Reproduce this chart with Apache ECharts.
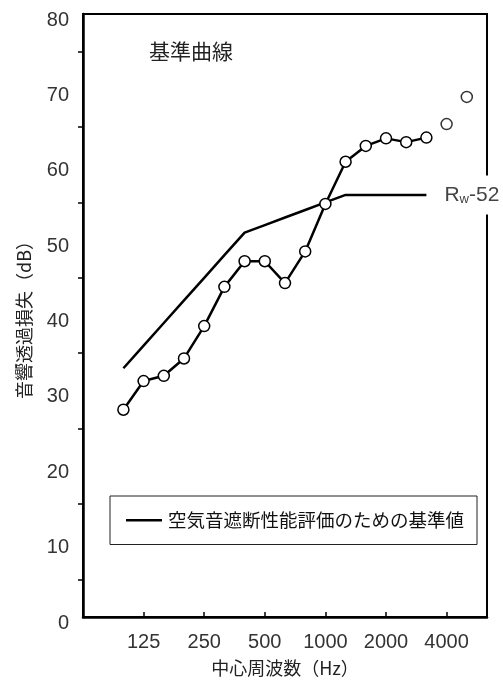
<!DOCTYPE html>
<html><head><meta charset="utf-8">
<script src="https://cdn.jsdelivr.net/npm/echarts@6/dist/echarts.min.js"></script>
<style>html,body{margin:0;padding:0;background:#fff}#c{width:503px;height:682px}</style>
</head><body><div id="c"></div>
<script>
// 1/3-octave band centre frequencies (Hz)
const bands = ['100','125','160','200','250','315','400','500','630','800','1000','1250','1600','2000','2500','3150','4000','5000'];
// Measured sound transmission loss (dB)
const measured = [27.5, 31.3, 32.0, 34.3, 38.6, 43.8, 47.2, 47.2, 44.3, 48.5, 54.8, 60.4, 62.5, 63.5, 63.0, 63.6, 65.4, 69.0];
// Number of measured points joined by a line (rest are markers only)
const measuredLineCount = 16;
// Reference curve (Rw-52), 100–3150 Hz
const reference = [33, 36, 39, 42, 45, 48, 51, 52, 53, 54, 55, 56, 56, 56, 56, 56];
// x tick labels
const xTickLabels = ['125', '250', '500', '1000', '2000', '4000'];
const yTicks = [0, 10, 20, 30, 40, 50, 60, 70, 80];

const FONT = '"Noto Sans CJK JP", "Noto Sans", sans-serif';
const NUMFONT = '"Liberation Sans", "DejaVu Sans", sans-serif';
const tickIdx = xTickLabels.map(l => bands.indexOf(l));
const legendName = '空気音遮断性能評価のための基準値';

const chart = echarts.init(document.getElementById('c'), null, {renderer: 'canvas'});
chart.setOption({
  animation: false,
  backgroundColor: '#fff',
  textStyle: {fontFamily: FONT},
  title: {
    text: '基準曲線', left: 144, top: 36,
    textStyle: {fontFamily: FONT, fontSize: 21, fontWeight: 'normal', color: '#222'}
  },
  grid: {left: 83, right: 16, top: 14, bottom: 64, show: true, borderColor: '#000', borderWidth: 2, backgroundColor: 'transparent'},
  legend: {
    left: 110, top: 496,
    data: [{name: legendName, icon: 'rect'}],
    orient: 'horizontal',
    borderColor: '#222', borderWidth: 1, borderRadius: 0,
    padding: [15, 13, 15, 16],
    itemWidth: 36, itemHeight: 2.5, itemGap: 7,
    textStyle: {fontFamily: FONT, fontSize: 18.5, color: '#111', padding: [0, 0, 0, 1]}
  },
  xAxis: {
    type: 'value', min: -2, max: 18,
    name: '中心周波数（Hz）', nameLocation: 'middle', nameGap: 42,
    nameTextStyle: {fontFamily: FONT, fontSize: 18, color: '#222'},
    axisLine: {onZero: false, lineStyle: {color: '#000', width: 2.5}},
    axisTick: {show: true, inside: true, length: 5, customValues: tickIdx, lineStyle: {color: '#000', width: 1.5}},
    axisLabel: {customValues: tickIdx, formatter: v => bands[Math.round(v)], fontFamily: NUMFONT, fontSize: 20, color: '#333', margin: 15},
    splitLine: {show: false}
  },
  yAxis: {
    type: 'value', min: 0, max: 80, interval: 10,
    name: '音響透過損失（dB）', nameLocation: 'middle', nameGap: 50,
    nameTextStyle: {fontFamily: FONT, fontSize: 18, color: '#222'},
    axisLine: {show: true, onZero: false, lineStyle: {color: '#000', width: 2.5}},
    axisTick: {show: false},
    minorTick: {show: true, splitNumber: 2, length: 5, lineStyle: {color: '#000', width: 1.5}},
    axisLabel: {customValues: yTicks, fontFamily: NUMFONT, fontSize: 20, color: '#333', margin: 14, verticalAlign: 'top', lineHeight: 12},
    splitLine: {show: false}
  },
  series: [
    {
      name: legendName,
      type: 'line',
      data: reference.map((v, i) => [i, v]),
      symbol: 'none', showSymbol: false,
      lineStyle: {color: '#000', width: 2.5},
      itemStyle: {color: '#000'},
      z: 2,
      endLabel: {
        show: true, distance: 16,
        backgroundColor: '#fff', padding: [8, 0, 8, 2],
        formatter: '{r|R}{w|w}{r|-52}',
        rich: {
          r: {fontFamily: NUMFONT, fontSize: 21, color: '#444', lineHeight: 23},
          w: {fontFamily: NUMFONT, fontSize: 13, color: '#444', lineHeight: 13, verticalAlign: 'bottom'}
        }
      }
    },
    {
      name: 'measured',
      type: 'line',
      data: measured.slice(0, measuredLineCount).map((v, i) => [i, v]),
      symbol: 'circle', symbolSize: 11, showSymbol: true,
      lineStyle: {color: '#000', width: 2.5},
      itemStyle: {color: '#fff', borderColor: '#000', borderWidth: 1.5},
      z: 3
    },
    {
      name: 'measured-extra',
      type: 'scatter',
      data: measured.map((v, i) => [i, v]).slice(measuredLineCount),
      symbol: 'circle', symbolSize: 11,
      itemStyle: {color: '#fff', borderColor: '#000', borderWidth: 1.5},
      z: 3
    }
  ]
});
</script></body></html>
